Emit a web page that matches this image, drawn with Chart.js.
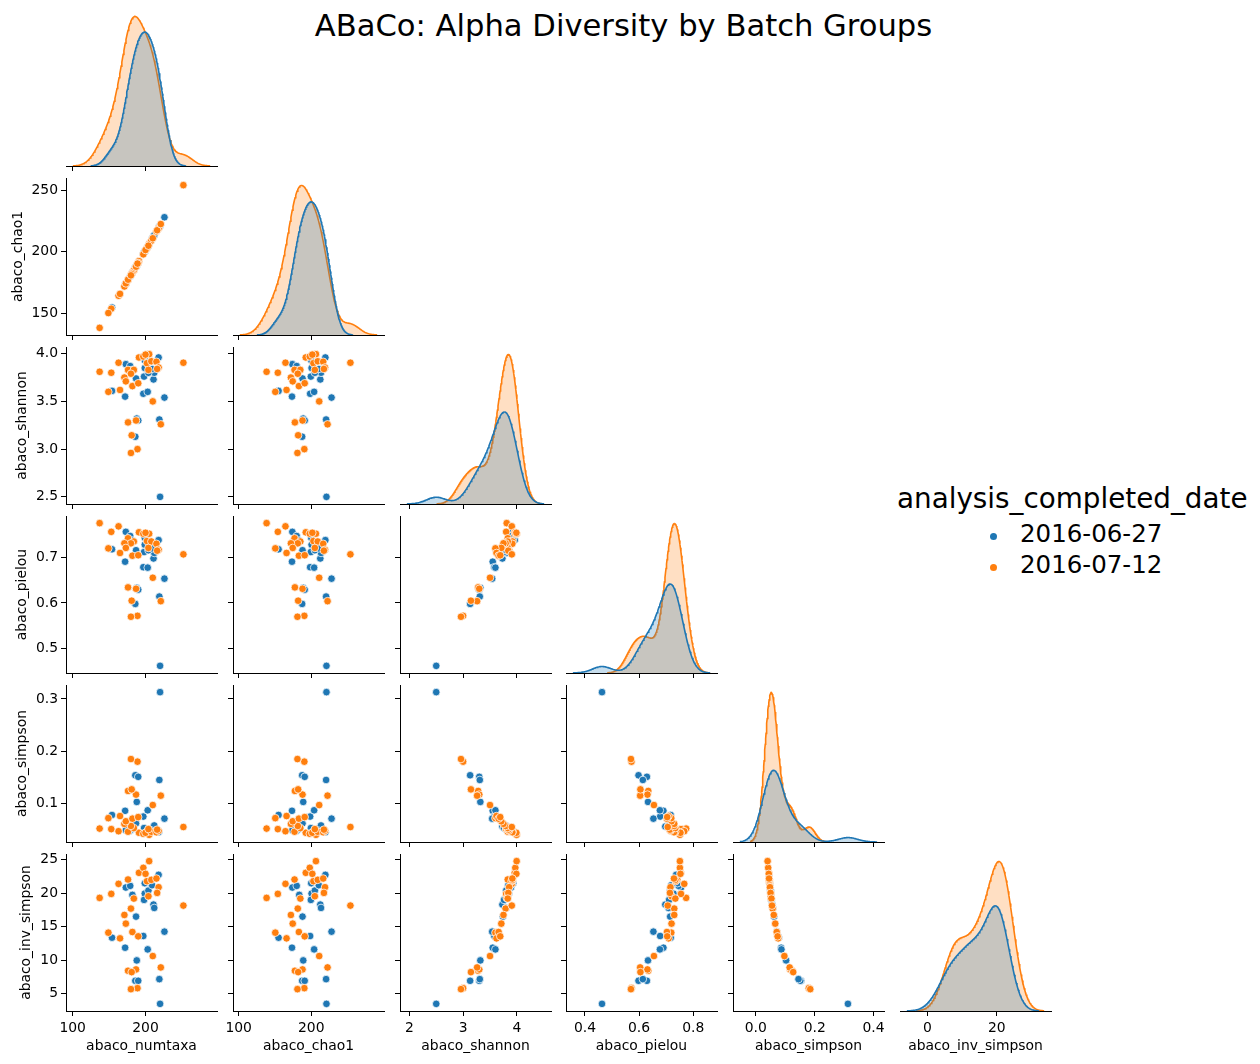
<!DOCTYPE html>
<html>
<head>
<meta charset="utf-8">
<script src="https://cdn.jsdelivr.net/npm/chart.js@4.4.0/dist/chart.umd.min.js"></script>
<style>
  body { margin: 0; background: #fff; width: 1260px; height: 1064px; position: relative; overflow: hidden; font-family: 'DejaVu Sans'; }
  canvas { position: absolute; }
  .txt { position: absolute; white-space: nowrap; color: #000; font-family: 'DejaVu Sans'; }
  .dot { position: absolute; width: 7px; height: 7px; border-radius: 50%; }
</style>
</head>
<body>
<div class="txt" id="title" style="left:0;width:1247px;text-align:center;top:8px;font-size:30.6px;line-height:1.164;">ABaCo: Alpha Diversity by Batch Groups</div>
<div class="txt" id="legTitle" style="left:897px;top:483px;font-size:27.8px;line-height:1.164;">analysis_completed_date</div>
<div class="dot" style="left:990px;top:533px;background:#1f77b4;"></div>
<div class="txt" id="leg0" style="left:1020px;top:520px;font-size:24.5px;line-height:1.164;">2016-06-27</div>
<div class="dot" style="left:990px;top:564px;background:#ff7f0e;"></div>
<div class="txt" id="leg1" style="left:1020px;top:550.5px;font-size:24.5px;line-height:1.164;">2016-07-12</div>
<script>
const variables = ["abaco_numtaxa", "abaco_chao1", "abaco_shannon", "abaco_pielou", "abaco_simpson", "abaco_inv_simpson"];
const groups = ["2016-06-27", "2016-07-12"];

// 2016-06-27 (blue)
const numtaxaA = [154, 172, 173, 179, 182, 187, 197, 203, 211, 212, 218, 226, 188, 186, 190, 219, 220, 199, 199, 198, 204, 209];
const chao1A = [155, 173.5, 174, 180, 183.5, 188, 198.5, 204, 212.5, 213.5, 219.5, 228, 189, 187.5, 191, 220.5, 221, 200.5, 200, 199.5, 205, 210.5];
const shannonA = [3.61, 3.55, 3.89, 3.87, 3.83, 3.74, 3.58, 3.60, 3.73, 3.80, 3.96, 3.54, 3.32, 3.13, 3.30, 3.31, 2.50, 3.85, 3.93, 3.76, 3.80, 3.84];
const pielouA = [0.717, 0.690, 0.755, 0.746, 0.736, 0.715, 0.678, 0.677, 0.697, 0.709, 0.737, 0.653, 0.633, 0.598, 0.629, 0.614, 0.463, 0.727, 0.742, 0.711, 0.715, 0.719];
const simpsonA = [0.078, 0.086, 0.049, 0.048, 0.051, 0.062, 0.075, 0.087, 0.056, 0.058, 0.045, 0.071, 0.103, 0.154, 0.151, 0.145, 0.313, 0.051, 0.047, 0.053, 0.050, 0.048];
const invSimpsonA = [13.35, 11.85, 20.85, 21.1, 19.75, 16.5, 13.6, 11.6, 18.3, 17.8, 22.75, 14.25, 9.95, 6.9, 6.9, 7.15, 3.45, 19.95, 21.5, 19.0, 20.4, 21.2];

// 2016-07-12 (orange)
const numtaxaB = [137, 153, 163, 176, 191, 197, 205, 202, 200, 208, 215, 218, 204, 216, 184, 180, 171, 173, 252, 149, 165, 182, 190, 210, 176, 187, 221, 181, 189, 180];
const chao1B = [138.5, 154, 164.5, 177, 192.5, 198, 206.5, 203, 201.5, 209, 216.5, 219, 205, 217.5, 185, 181.5, 172, 174.5, 254, 150.5, 166, 183, 191, 211, 177.5, 188, 222.5, 182, 190.5, 181];
const shannonB = [3.81, 3.80, 3.905, 3.83, 3.96, 3.97, 3.995, 3.90, 3.99, 3.92, 3.915, 3.855, 3.83, 3.84, 3.83, 3.79, 3.75, 3.71, 3.905, 3.60, 3.62, 3.66, 3.69, 3.50, 3.28, 3.30, 3.26, 3.145, 3.00, 2.96];
const pielouB = [0.774, 0.755, 0.767, 0.741, 0.754, 0.751, 0.751, 0.735, 0.753, 0.734, 0.729, 0.716, 0.720, 0.714, 0.734, 0.730, 0.730, 0.720, 0.706, 0.719, 0.709, 0.703, 0.704, 0.655, 0.634, 0.631, 0.604, 0.605, 0.572, 0.570];
const simpsonB = [0.052, 0.051, 0.047, 0.046, 0.044, 0.042, 0.040, 0.046, 0.044, 0.046, 0.045, 0.048, 0.051, 0.050, 0.053, 0.057, 0.061, 0.066, 0.055, 0.072, 0.076, 0.071, 0.074, 0.097, 0.124, 0.117, 0.115, 0.127, 0.180, 0.185];
const invSimpsonB = [19.3, 19.9, 21.4, 22.05, 23.05, 23.8, 24.8, 21.8, 22.9, 22.0, 22.2, 20.9, 19.55, 20.05, 19.2, 17.7, 16.75, 15.45, 18.15, 14.1, 13.25, 14.2, 13.55, 10.6, 8.4, 8.6, 8.9, 8.2, 5.8, 5.65];

// tick positions
const xTicks = [[100, 200], [100, 200], [2, 3, 4], [0.4, 0.6, 0.8], [0.0, 0.2, 0.4], [0, 20]];
const yTicks = [[], [150, 200, 250], [2.5, 3.0, 3.5, 4.0], [0.5, 0.6, 0.7], [0.1, 0.2, 0.3], [5, 10, 15, 20, 25]];

const BLUE = "#1f77b4", ORANGE = "#ff7f0e";
const BLUE_FILL = "rgba(31,119,180,0.25)", ORANGE_FILL = "rgba(255,127,14,0.25)";
const COL_LEFT = [66, 233, 400, 566, 733, 900];
const ROW_TOP = [9, 178, 347, 516, 685, 854];
const PW = 151, PH = 157;
const TITLE_PAD = [0, 10, 14, 14, 14, 18];
const FS = 13.9;

Chart.defaults.font.family = "DejaVu Sans";
Chart.defaults.color = "#000";

const seriesA = [numtaxaA, chao1A, shannonA, pielouA, simpsonA, invSimpsonA];
const seriesB = [numtaxaB, chao1B, shannonB, pielouB, simpsonB, invSimpsonB];
const nTotal = numtaxaA.length + numtaxaB.length;

// gaussian kde, scott bandwidth, scaled by group share (common_norm)
function kde(vals) {
  const n = vals.length;
  const mean = vals.reduce((a, b) => a + b, 0) / n;
  const sd = Math.sqrt(vals.reduce((a, v) => a + (v - mean) ** 2, 0) / (n - 1));
  const bw = sd * Math.pow(n, -0.2);
  const lo = Math.min(...vals) - 3 * bw, hi = Math.max(...vals) + 3 * bw;
  const pts = [];
  for (let i = 0; i < 200; i++) {
    const x = lo + (hi - lo) * i / 199;
    let s = 0;
    for (const v of vals) { const z = (x - v) / bw; s += Math.exp(-0.5 * z * z); }
    pts.push({ x: x, y: s / (n * bw * Math.sqrt(2 * Math.PI)) * n / nTotal });
  }
  return pts;
}

const kdeA = seriesA.map(kde);
const kdeB = seriesB.map(kde);

const xRange = variables.map((_, i) => {
  const lo = Math.min(kdeA[i][0].x, kdeB[i][0].x);
  const hi = Math.max(kdeA[i][199].x, kdeB[i][199].x);
  const p = (hi - lo) * 0.05;
  return [lo - p, hi + p];
});
const yRange = variables.map((_, i) => {
  const all = seriesA[i].concat(seriesB[i]);
  const lo = Math.min(...all), hi = Math.max(...all);
  const p = (hi - lo) * 0.05;
  return [lo - p, hi + p];
});
const diagMax = variables.map((_, i) => 1.05 * Math.max(...kdeA[i].map(p => p.y), ...kdeB[i].map(p => p.y)));

function fmt(v, ticks) {
  const step = ticks.length > 1 ? ticks[1] - ticks[0] : 1;
  const dec = Math.max(0, -Math.floor(Math.log10(step) + 1e-9));
  return Number(v).toFixed(dec);
}

const GRID = { display: true, drawOnChartArea: false, drawTicks: true, tickLength: 5, tickWidth: 1, tickColor: "#000", color: "#000" };
const BORDER = { display: true, color: "#000", width: 1 };

function xScale(c, r, XH) {
  const labelled = r === 5;
  return {
    type: "linear", min: xRange[c][0], max: xRange[c][1],
    afterBuildTicks: s => { s.ticks = xTicks[c].map(v => ({ value: v })); },
    afterFit: s => { s.height = XH; s.paddingLeft = 0; s.paddingRight = 0; },
    ticks: { display: labelled, autoSkip: false, maxRotation: 0, padding: 4, color: "#000", font: { size: FS }, callback: v => fmt(v, xTicks[c]) },
    grid: GRID, border: BORDER,
    title: { display: labelled, text: variables[c], color: "#000", font: { size: FS }, padding: { top: 0, bottom: 10 } }
  };
}

function yScale(r, c, YW) {
  const labelled = c === 0;
  return {
    type: "linear", min: yRange[r][0], max: yRange[r][1],
    afterBuildTicks: s => { s.ticks = yTicks[r].map(v => ({ value: v })); },
    afterFit: s => { s.width = YW; s.paddingTop = 0; s.paddingBottom = 0; },
    ticks: { display: labelled, autoSkip: false, padding: 3, color: "#000", font: { size: FS }, callback: v => fmt(v, yTicks[r]) },
    grid: GRID, border: BORDER,
    title: { display: labelled, text: variables[r], color: "#000", font: { size: FS }, padding: { top: TITLE_PAD[r], bottom: 0 } }
  };
}

function panelConfig(r, c, YW, XH) {
  const base = {
    responsive: false, animation: false, events: [], devicePixelRatio: 1,
    plugins: { legend: { display: false }, tooltip: { enabled: false } }
  };
  if (r === c) {
    return {
      type: "line",
      data: {
        datasets: [
          { label: groups[0], data: kdeA[c], borderColor: BLUE, backgroundColor: BLUE_FILL, fill: "origin", order: 0 },
          { label: groups[1], data: kdeB[c], borderColor: ORANGE, backgroundColor: ORANGE_FILL, fill: "origin", order: 1 }
        ]
      },
      options: Object.assign({}, base, {
        layout: { autoPadding: false, padding: { left: YW, top: 6, right: 14, bottom: 0 } },
        elements: { point: { radius: 0 }, line: { borderWidth: 1.6, tension: 0 } },
        scales: {
          x: xScale(c, r, XH),
          y: { display: false, min: 0, max: diagMax[c] }
        }
      })
    };
  }
  const pts = (xs, ys) => xs.map((x, k) => ({ x: x, y: ys[k] }));
  return {
    type: "scatter",
    data: {
      datasets: [
        { label: groups[0], data: pts(seriesA[c], seriesA[r]), backgroundColor: BLUE, borderColor: "#fff", borderWidth: 0.75, pointRadius: 3.8, order: 1 },
        { label: groups[1], data: pts(seriesB[c], seriesB[r]), backgroundColor: ORANGE, borderColor: "#fff", borderWidth: 0.75, pointRadius: 3.8, order: 0 }
      ]
    },
    options: Object.assign({}, base, {
      layout: { autoPadding: false, padding: { left: 0, top: 6, right: 14, bottom: 0 } },
      scales: { x: xScale(c, r, XH), y: yScale(r, c, YW) }
    })
  };
}

for (let r = 0; r < 6; r++) {
  for (let c = 0; c <= r; c++) {
    const YW = c === 0 ? 66 : 10;
    const XH = r === 5 ? 54 : 8;
    const w = YW + PW + 14, h = 6 + PH + XH;
    const cv = document.createElement("canvas");
    cv.width = w; cv.height = h;
    cv.style.left = (COL_LEFT[c] - YW) + "px";
    cv.style.top = (ROW_TOP[r] - 6) + "px";
    cv.style.width = w + "px"; cv.style.height = h + "px";
    document.body.appendChild(cv);
    new Chart(cv, panelConfig(r, c, YW, XH));
  }
}
</script>
</body>
</html>
